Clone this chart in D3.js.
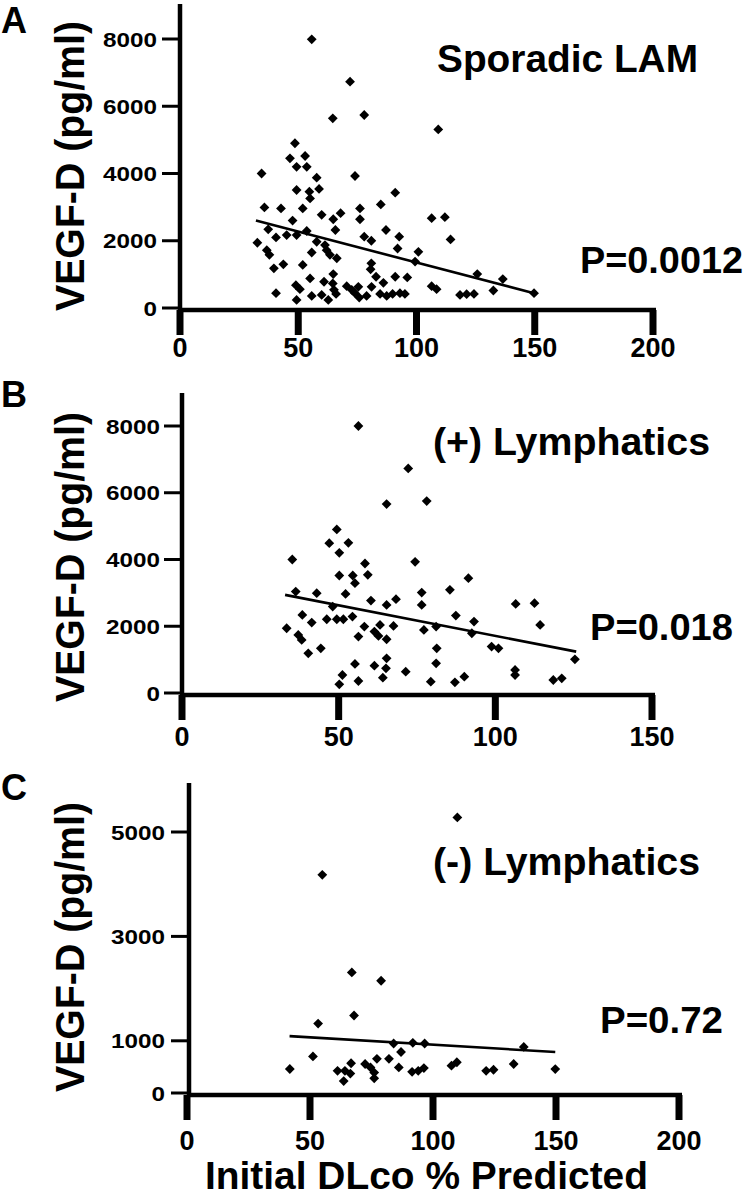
<!DOCTYPE html>
<html><head><meta charset="utf-8">
<script src="https://cdn.jsdelivr.net/npm/d3@7"></script>
<style>
body{margin:0;background:#fff;}
svg text{font-family:"Liberation Sans",Arial,Helvetica,sans-serif;font-weight:bold;fill:#000;}
</style></head>
<body>
<svg id="chart" width="746" height="1200"></svg>
<script>
// ---------- data ----------
const aX = [55.7,71.9,64.6,77.9,48.6,46.5,52.9,49.3,53.6,34.5,74,57.8,49.3,54.7,58.8,55,91,35.7,42.7,51.9,76.1,84.9,59.9,64.8,67.9,76.1,47.6,37.3,65.7,87.1,40.6,45.1,49.3,53.6,77.9,80.9,92.7,32.7,57.8,61.3,36.7,37.8,62,63.4,55.7,66.3,92,100.8,99.4,39.7,43.7,51.9,80.9,64.8,55,60.9,80.6,82.9,91,96.1,86,49,50.7,64.6,65.1,70.5,72.6,75.4,81,40.6,55.7,59.9,62.7,49.3,66,74,75.8,78.9,84.6,87.4,89.9,93,95.1,106.4,108.5,109.2,106.4,112,114.4,118.4,121.2,124.3,125.7,132.5,136.5,149.7];
const aY = [7990,6730,5640,5740,4900,4450,4520,4200,4200,4000,3925,3875,3510,3460,3540,3260,3430,2990,2960,2960,2960,3080,2770,2640,2820,2640,2600,2340,2320,2320,2100,2170,2170,2290,2120,2000,2120,1940,1970,1870,1720,1580,1720,1580,1650,1480,1770,1670,1380,1180,1300,1280,1330,1010,880,780,1150,930,930,910,750,680,560,730,540,650,540,630,630,440,360,390,240,240,420,440,310,360,420,360,420,440,420,650,560,5310,2670,2700,2040,390,410,420,1010,520,860,440];
const aLineX = [32.1,149.7];
const aLineY = [2600,440];

const bX = [56.3,72.2,65.3,78.1,49.4,47,53.1,50.2,35.2,74.4,58.4,50.2,54.5,59.3,55.2,91.4,36.3,43,52.2,76.5,85.5,60.3,65.3,68.3,76.5,48.1,38.4,87.4,41.4,46.2,49.4,51.5,54.4,93.2,33.4,58.2,63.2,67.5,77.2,81.1,37.1,38.2,56.3,61.4,62.7,65.3,92.5,98.8,101,40.3,44.3,81.3,55.2,61.4,65.3,65.1,81.1,71.4,106.5,112.5,114.3,106.3,106.3,51.2,50.2,56.3,64.1,79.4,87.1,90.1,118.5,121.2,125.4];
const bY = [8000,6730,5660,5750,4900,4490,4500,4200,4000,3930,3880,3520,3520,3540,3290,3440,3040,2990,2970,3010,3090,2770,2640,2810,2640,2590,2340,2320,2110,2210,2210,2210,2290,2140,1940,1990,2040,2010,1890,1990,1740,1590,1690,1840,1710,1610,1790,1390,1340,1190,1340,1340,870,820,1040,740,890,640,2670,2690,2040,690,540,540,260,360,460,340,320,490,390,440,1010];
const bLineX = [32.9,125.8];
const bLineY = [2940,1240];

const cX = [109.9,55,67,78.9,53.3,67.9,41.8,51.2,61.2,64.2,66.7,66.4,63.7,72.4,74.6,76.1,76.1,77.2,82.1,84,87,86.1,91.5,94,96.3,91.8,96.6,107.5,109.7,121.6,124.6,132.8,136.9,149.7];
const cY = [5280,4180,2310,2150,1330,1485,460,700,425,425,570,373,229,556,490,392,281,654,654,948,785,490,405,425,477,961,948,523,589,425,445,556,883,458];
const cLineX = [41.7,149.7];
const cLineY = [1090,785];

const aXTicks = [0,50,100,150,200];
const bXTicks = [0,50,100,150];
const cXTicks = [0,50,100,150,200];
const aYTicks = [0,2000,4000,6000,8000];
const bYTicks = [0,2000,4000,6000,8000];
const cYTicks = [0,1000,3000,5000];

const panelLetters = ["A","B","C"];
const panelTitles = ["Sporadic LAM","(+) Lymphatics","(-) Lymphatics"];
const pLabels = ["P=0.0012","P=0.018","P=0.72"];
const yTitle = "VEGF-D (pg/ml)";
const xTitle = "Initial DLco % Predicted";

// ---------- layout ----------
const svg = d3.select("#chart");
const layouts = [
  {xs:[0,200], xr:[180,653], ys:[0,8000], yr:[308,39], yTop:4, axX:180, tickLblX:157, xLblY:357,
   letterY:33, titleX:437, titleY:72, titleW:261, pX:580, pY:273, pW:163, yTitleC:166},
  {xs:[0,150], xr:[182,652], ys:[0,8000], yr:[693,426], yTop:393, axX:182, tickLblX:160, xLblY:746,
   letterY:407, titleX:433, titleY:455, titleW:277, pX:590, pY:640, pW:143, yTitleC:557},
  {xs:[0,200], xr:[187,679], ys:[0,5000], yr:[1093,832], yTop:783, axX:189, tickLblX:165, xLblY:1150,
   letterY:800, titleX:433, titleY:875, titleW:267, pX:600, pY:1033, pW:123, yTitleC:947}
];
const data = [
  {x:aX,y:aY,lx:aLineX,ly:aLineY,xt:aXTicks,yt:aYTicks},
  {x:bX,y:bY,lx:bLineX,ly:bLineY,xt:bXTicks,yt:bYTicks},
  {x:cX,y:cY,lx:cLineX,ly:cLineY,xt:cXTicks,yt:cYTicks}
];

const diamond = d3.symbol().type(d3.symbolSquare).size(48);

layouts.forEach((L,i)=>{
  const D = data[i];
  const x = d3.scaleLinear().domain(L.xs).range(L.xr);
  const y = d3.scaleLinear().domain(L.ys).range(L.yr);
  const g = svg.append("g");
  const axisY = y(0) + 2;

  g.append("line").attr("x1",L.axX).attr("x2",L.axX).attr("y1",L.yTop).attr("y2",axisY+2)
    .attr("stroke","#000").attr("stroke-width",4.5);
  g.append("line").attr("x1",L.axX-2).attr("x2",x(L.xs[1])+3).attr("y1",axisY).attr("y2",axisY)
    .attr("stroke","#000").attr("stroke-width",4.5);
  g.selectAll(".xt").data(D.xt).join("line")
    .attr("x1",d=>x(d)).attr("x2",d=>x(d)).attr("y1",axisY).attr("y2",axisY+25)
    .attr("stroke","#000").attr("stroke-width",7);
  g.selectAll(".xl").data(D.xt).join("text")
    .attr("x",d=>x(d)).attr("y",L.xLblY).attr("text-anchor","middle")
    .attr("font-size",27).text(d=>d);
  g.selectAll(".yt").data(D.yt).join("line")
    .attr("x1",L.axX-18).attr("x2",L.axX).attr("y1",d=>y(d)).attr("y2",d=>y(d))
    .attr("stroke","#000").attr("stroke-width",3);
  g.selectAll(".yl").data(D.yt).join("text")
    .attr("x",L.tickLblX).attr("y",d=>y(d)+7.5).attr("text-anchor","end")
    .attr("font-size",21)
    .attr("textLength",d=>String(d).length*13.5).attr("lengthAdjust","spacingAndGlyphs")
    .text(d=>d);

  g.append("text").attr("transform",`translate(84,${L.yTitleC}) rotate(-90)`)
    .attr("text-anchor","middle").attr("font-size",40)
    .attr("textLength",290).attr("lengthAdjust","spacingAndGlyphs").text(yTitle);
  g.append("text").attr("x",1).attr("y",L.letterY).attr("font-size",36).text(panelLetters[i]);
  g.append("text").attr("x",L.titleX).attr("y",L.titleY).attr("font-size",38)
    .attr("textLength",L.titleW).attr("lengthAdjust","spacingAndGlyphs").text(panelTitles[i]);
  g.append("text").attr("x",L.pX).attr("y",L.pY).attr("font-size",37)
    .attr("textLength",L.pW).attr("lengthAdjust","spacingAndGlyphs").text(pLabels[i]);

  g.append("line").attr("x1",x(D.lx[0])).attr("x2",x(D.lx[1]))
    .attr("y1",y(D.ly[0])).attr("y2",y(D.ly[1]))
    .attr("stroke","#000").attr("stroke-width",2.6);

  g.selectAll(".pt").data(D.x.map((v,k)=>[v,D.y[k]])).join("path")
    .attr("d",diamond)
    .attr("transform",d=>`translate(${x(d[0])},${y(d[1])}) rotate(45)`)
    .attr("fill","#000");

  if(i===2){
    g.append("text").attr("x",205).attr("y",1189).attr("font-size",38)
      .attr("textLength",443).attr("lengthAdjust","spacingAndGlyphs").text(xTitle);
  }
});
</script>
</body></html>
